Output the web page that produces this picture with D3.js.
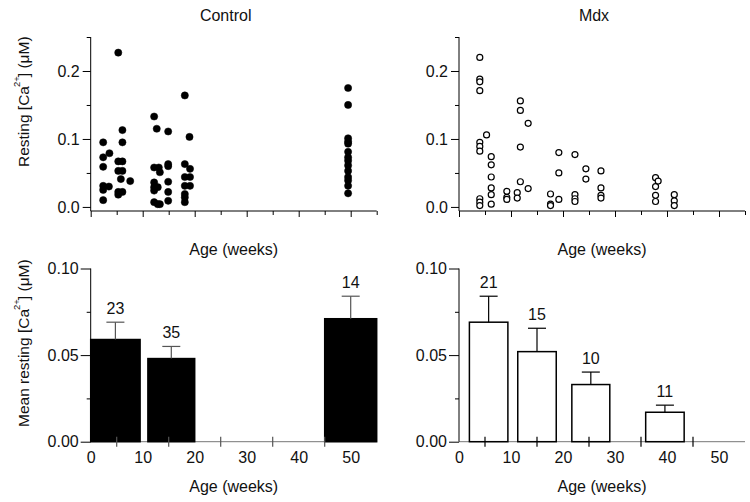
<!DOCTYPE html>
<html><head><meta charset="utf-8">
<script src="https://cdn.jsdelivr.net/npm/d3@7"></script>
<style>
body{margin:0;background:#fff;}
text{font-family:"Liberation Sans",Arial,sans-serif;fill:#111;}
</style></head>
<body><svg id="c" width="750" height="502"></svg>
<script>
// ---------- DATA ----------
const panelTitles = ["Control", "Mdx"];
const xTickLabels = [0, 10, 20, 30, 40, 50];
const topYTicks = [0.0, 0.1, 0.2];
const bottomYTicks = [0.00, 0.05, 0.10];

// Control scatter: age (weeks), resting Ca (uM)
const controlAge = [2.4,2.4,3.6,2.4,2.4,3.5,2.4,2.4,
  5.3,6.1,6.1,5.3,6.1,5.3,6.1,5.8,7.6,5.3,6.1,5.3,
  12.2,12.7,14.9,12.2,13.1,13.3,12.2,12.2,12.9,12.2,12.2,12.9,13.3,14.9,14.9,14.9,14.9,14.9,
  18.1,19.0,18.1,19.1,18.1,19.1,18.1,19.1,18.1,18.1,18.1,
  49.5,49.5,49.5,49.5,49.5,49.5,49.5,49.5,49.5,49.5,49.5,49.5,49.5,49.5];
const controlCa = [0.095,0.073,0.079,0.059,0.031,0.030,0.025,0.010,
  0.227,0.113,0.095,0.067,0.067,0.053,0.053,0.041,0.038,0.022,0.022,0.018,
  0.133,0.115,0.111,0.058,0.058,0.051,0.036,0.029,0.029,0.024,0.007,0.004,0.004,0.063,0.060,0.037,0.022,0.009,
  0.164,0.103,0.063,0.056,0.044,0.044,0.031,0.031,0.019,0.014,0.007,
  0.175,0.150,0.101,0.096,0.093,0.081,0.073,0.068,0.061,0.053,0.044,0.039,0.031,0.020];

// Mdx scatter
const mdxAge = [4.0,4.0,4.0,4.0,4.0,4.0,4.0,4.0,4.0,4.0,5.3,
  6.2,6.2,6.2,6.2,6.2,6.2,
  9.2,9.2,9.2,11.2,11.2,
  11.8,11.8,11.8,11.8,13.3,13.3,
  17.6,17.6,17.6,19.2,19.2,19.2,
  22.3,22.3,22.3,22.3,24.4,24.4,
  27.3,27.3,27.3,27.3,
  37.8,37.8,37.8,37.8,38.3,
  41.4,41.4,41.4];
const mdxCa = [0.220,0.188,0.184,0.171,0.095,0.089,0.082,0.012,0.007,0.002,0.106,
  0.074,0.062,0.044,0.028,0.018,0.004,
  0.023,0.014,0.011,0.021,0.013,
  0.156,0.142,0.088,0.037,0.123,0.027,
  0.019,0.004,0.002,0.080,0.050,0.011,
  0.077,0.018,0.012,0.008,0.056,0.041,
  0.053,0.028,0.017,0.013,
  0.043,0.030,0.017,0.008,0.038,
  0.018,0.009,0.002];

// Bar data: age bin start/end, mean, SEM, n
const controlBinStart = [0, 11, 45];
const controlBinEnd = [9.5, 20, 55];
const controlMean = [0.059, 0.048, 0.071];
const controlSem = [0.010, 0.007, 0.013];
const controlN = [23, 35, 14];

const mdxBinStart = [2, 11.3, 21.7, 35.9];
const mdxBinEnd = [9.4, 18.7, 29, 43.3];
const mdxMean = [0.069, 0.052, 0.033, 0.017];
const mdxSem = [0.015, 0.0135, 0.0072, 0.0041];
const mdxN = [21, 15, 10, 11];

// ---------- DRAW ----------
const svg = d3.select("#c");
const FS = 16;
const panelsX = [[90.7, 376.7], [459, 745]];
const xDomain = [0, 55];
const yTop = d3.scaleLinear().domain([-0.006, 0.25]).range([211, 37]);
const yBot = d3.scaleLinear().domain([0, 0.10]).range([441.7, 268.5]);

function yLabel(x, y, pre) {
  const t = svg.append("text").attr("transform", `translate(${x},${y}) rotate(-90)`)
    .attr("text-anchor", "start").attr("font-size", 15.5);
  t.append("tspan").text(pre + "[Ca");
  t.append("tspan").attr("font-size", 9.5).attr("dy", -9).attr("dx", -1).text("2+");
  t.append("tspan").attr("dy", 9).attr("dx", -1).text("] (\u03bcM)");
}

panelTitles.forEach((title, pi) => {
  const x = d3.scaleLinear().domain(xDomain).range(panelsX[pi]);
  const cx = (panelsX[pi][0] + panelsX[pi][1]) / 2;
  svg.append("text").attr("x", cx - 8).attr("y", 21).attr("text-anchor", "middle")
    .attr("font-size", FS).text(title);

  // ---- top scatter ----
  const gT = svg.append("g");
  const yAxT = d3.axisLeft(yTop).tickValues(topYTicks).tickFormat(d3.format(".1f"))
    .tickSize(8).tickPadding(3);
  const ya = gT.append("g").attr("transform", `translate(${x(0)},0)`).call(yAxT);
  ya.select(".domain").attr("d", `M0,${yTop.range()[1]}V${yTop.range()[0]}`);
  ya.selectAll("text").attr("font-size", FS).attr("font-family", "Liberation Sans, Arial");
  gT.append("g").attr("transform", `translate(${x(0)},0)`)
    .call(d3.axisLeft(yTop).tickValues([0.05, 0.15, 0.25]).tickSize(4).tickFormat(""))
    .select(".domain").remove();
  const xa = gT.append("g").attr("transform", `translate(0,${yTop.range()[0]})`)
    .call(d3.axisBottom(x).tickValues(xTickLabels).tickSize(6).tickFormat(""));
  xa.select(".domain").attr("d", `M${x.range()[0]},0H${x.range()[1]}`);
  gT.append("g").attr("transform", `translate(0,${yTop.range()[0]})`)
    .call(d3.axisBottom(x).tickValues([5, 15, 25, 35, 45, 55]).tickSize(4).tickFormat(""))
    .select(".domain").remove();
  svg.append("text").attr("x", cx).attr("y", 255).attr("text-anchor", "middle")
    .attr("font-size", FS).text("Age (weeks)");

  const ages = pi === 0 ? controlAge : mdxAge;
  const vals = pi === 0 ? controlCa : mdxCa;
  gT.selectAll("circle").data(ages.map((a, i) => [a, vals[i]])).join("circle")
    .attr("cx", d => x(d[0])).attr("cy", d => yTop(d[1]))
    .attr("r", pi === 0 ? 3.6 : 3)
    .attr("fill", pi === 0 ? "#000" : "#fff")
    .attr("stroke", "#000").attr("stroke-width", pi === 0 ? 0.5 : 1.2);

  // ---- bottom bars ----
  const gB = svg.append("g");
  const starts = pi === 0 ? controlBinStart : mdxBinStart;
  const ends = pi === 0 ? controlBinEnd : mdxBinEnd;
  const means = pi === 0 ? controlMean : mdxMean;
  const sems = pi === 0 ? controlSem : mdxSem;
  const ns = pi === 0 ? controlN : mdxN;
  const bars = starts.map((s, i) => ({s, e: ends[i], m: means[i], se: sems[i], n: ns[i]}));

  const xb = gB.append("g").attr("transform", `translate(0,${yBot(0)})`)
    .call(d3.axisBottom(x).tickValues(xTickLabels).tickSize(0).tickPadding(10));
  xb.select(".domain").attr("d", `M${x.range()[0]},0H${x.range()[1]}`).attr("stroke", "#777");
  xb.selectAll("text").attr("font-size", FS).attr("font-family", "Liberation Sans, Arial");

  gB.selectAll("rect.bar").data(bars).join("rect").attr("class", "bar")
    .attr("x", d => x(d.s)).attr("width", d => x(d.e) - x(d.s))
    .attr("y", d => yBot(d.m)).attr("height", d => yBot(0) - yBot(d.m))
    .attr("fill", pi === 0 ? "#000" : "#fff")
    .attr("stroke", "#000").attr("stroke-width", 1.5);

  gB.selectAll("line.xt").data([5, 15, 25, 35, 45]).join("line").attr("class", "xt")
    .attr("x1", d => x(d)).attr("x2", d => x(d))
    .attr("y1", yBot(0) - 5).attr("y2", yBot(0) + 5)
    .attr("stroke", pi === 0 ? "#555" : "#000").attr("stroke-width", 1.2);

  const ec = pi === 0 ? "#555" : "#000";
  gB.selectAll("line.ev").data(bars).join("line").attr("class", "ev")
    .attr("x1", d => x((d.s + d.e) / 2)).attr("x2", d => x((d.s + d.e) / 2))
    .attr("y1", d => yBot(d.m)).attr("y2", d => yBot(d.m + d.se))
    .attr("stroke", ec).attr("stroke-width", 1.2);
  gB.selectAll("line.ec").data(bars).join("line").attr("class", "ec")
    .attr("x1", d => x((d.s + d.e) / 2) - 9).attr("x2", d => x((d.s + d.e) / 2) + 9)
    .attr("y1", d => yBot(d.m + d.se)).attr("y2", d => yBot(d.m + d.se))
    .attr("stroke", ec).attr("stroke-width", 1.2);
  gB.selectAll("text.n").data(bars).join("text").attr("class", "n")
    .attr("x", d => x((d.s + d.e) / 2)).attr("y", d => yBot(d.m + d.se) - 8)
    .attr("text-anchor", "middle").attr("font-size", FS).text(d => d.n);

  const yb = gB.append("g").attr("transform", `translate(${x(0)},0)`)
    .call(d3.axisLeft(yBot).tickValues(bottomYTicks).tickFormat(d3.format(".2f"))
      .tickSize(10).tickPadding(2));
  yb.select(".domain").attr("d", `M0,${yBot.range()[1]}V${yBot.range()[0]}`);
  yb.selectAll("text").attr("font-size", FS).attr("font-family", "Liberation Sans, Arial");
  gB.append("g").attr("transform", `translate(${x(0)},0)`)
    .call(d3.axisLeft(yBot).tickValues([0.025, 0.075]).tickSize(4).tickFormat(""))
    .select(".domain").remove();

  svg.append("text").attr("x", cx).attr("y", 492).attr("text-anchor", "middle")
    .attr("font-size", FS).text("Age (weeks)");
});

yLabel(29, 167, "Resting ");
yLabel(29, 427, "Mean resting ");
</script></body></html>
